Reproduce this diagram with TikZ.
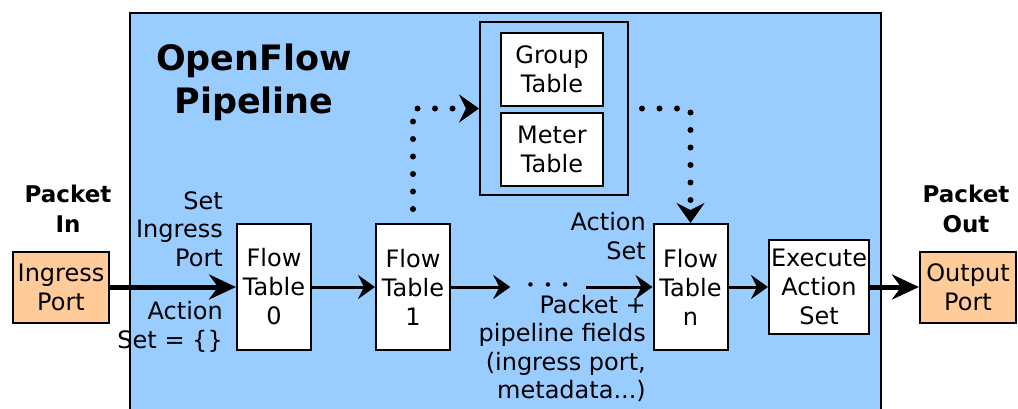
\documentclass[tikz,border=0pt]{standalone}
\usepackage{fontspec}
\setmainfont{DejaVu Sans}
\usetikzlibrary{arrows.meta}
\definecolor{pipeblue}{HTML}{99CCFF}
\definecolor{portorange}{HTML}{FFCC99}
\tikzstyle{port} = [rectangle, 
minimum width=96pt, 
minimum height=71pt,
inner sep=0pt,
align=center, 
draw=black, line width=2pt,
fill=portorange,
font=\fontsize{24}{29}\selectfont]
\tikzstyle{flow} = [rectangle, 
minimum width=74pt, 
minimum height=126pt, 
inner sep=0pt,
align=center, 
draw=black, line width=2pt,
fill=white,
font=\fontsize{24}{29}\selectfont]
\tikzstyle{process} = [flow, 
minimum width=100pt, 
minimum height=94pt]
\tikzstyle{tablebox} = [flow, 
minimum width=102pt, 
minimum height=73pt]
\tikzstyle{lbl} = [inner sep=0pt, align=right,
font=\fontsize{24}{28.5}\selectfont]
\tikzstyle{heading} = [inner sep=0pt, align=center,
font=\fontsize{23}{30}\selectfont\bfseries]
\tikzstyle{arrow} = [line width=3pt,-{Stealth[length=17pt,width=24pt,inset=6pt]}]
\tikzstyle{bigarrow} = [line width=5pt,-{Stealth[length=27pt,width=25pt,inset=9pt]}]
\tikzstyle{dotarrow} = [line width=6pt, line cap=round,
dash pattern=on 0pt off 17.5pt,
-{Stealth[length=20pt,width=28pt,inset=7pt]}]

\begin{document}
\begin{tikzpicture}[x=1pt, y=-1pt, node distance=139pt]
\clip (0,0) rectangle (1018,408);

% pipeline background
\draw [fill=pipeblue, line width=2pt] (130,13) rectangle (881,430);
\node (title) [heading, font=\fontsize{35}{43}\selectfont\bfseries] at (254,82) {OpenFlow\\Pipeline};

\node (ft0) [flow] at (274,287) {Flow\\Table\\0};
\node (ft1) [flow, right of=ft0] {Flow\\Table\\1};
\node (dots) [right of=ft1, xshift=-4pt, minimum width=75pt, inner sep=0pt, font=\fontsize{15}{15}\selectfont] {\raisebox{-2.5pt}{\textbullet\hspace{8.5pt}\textbullet\hspace{8.5pt}\textbullet}};
\node (ftn) [flow, right of=ft1, xshift=138.5pt] {Flow\\Table\\n};
\node (exe) [process, right of=ftn, xshift=-10.5pt] {Execute\\Action\\Set};

\node (in1) [port, left of=ft0, xshift=-74pt] {Ingress\\Port};
\node (out1) [port, right of=exe, xshift=10pt] {Output\\Port};
\node (pin) [heading, above of=in1, yshift=-61pt, xshift=7pt] {Packet\\In};
\node (pout) [heading, above of=out1, yshift=-61pt, xshift=-2pt] {Packet\\Out};

% group and meter tables
\node (box1) [rectangle, draw=black, line width=2pt, minimum width=148pt, minimum height=173pt] at (554,108.5) {};
\node (grp) [tablebox] at (552,69.5) {Group\\Table};
\node (met) [tablebox, below of=grp, yshift=59pt] {Meter\\Table};

\node (setport) [lbl, anchor=east] at (223,229) {Set\\Ingress\\Port};
\node (aset0) [lbl, anchor=east] at (223,327) {Action\\Set = \{\}};
\node (asetn) [lbl, anchor=east] at (646,236) {Action\\Set};
\node (fields) [lbl, anchor=east] at (646,348.5) {Packet +\\pipeline fields\\(ingress port,\\metadata...)};

\draw [bigarrow] (in1) -- (ft0);
\draw [arrow] (ft0) -- (ft1);
\draw [arrow] (ft1) -- (dots);
\draw [arrow] (dots) -- (ftn);
\draw [arrow] (ftn) -- (exe);
\draw [bigarrow] (exe) -- (out1);

\draw [dotarrow, shorten <=14pt] (ft1.north) |- (box1.west);
\draw [dotarrow, shorten <=13pt] (box1.east) -| (ftn.north);

\end{tikzpicture}
\end{document}
